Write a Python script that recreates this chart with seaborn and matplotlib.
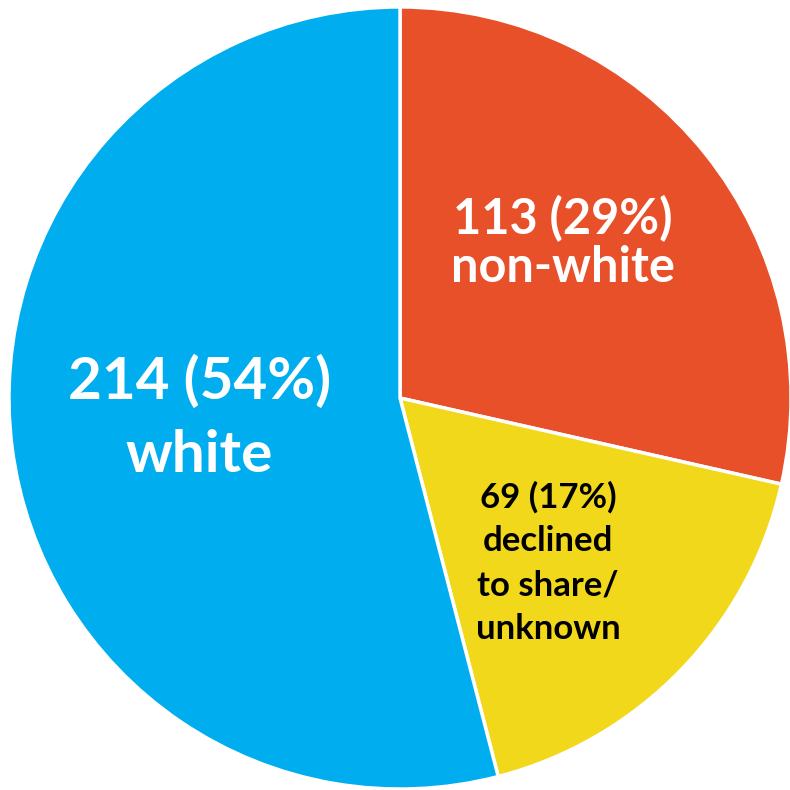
import matplotlib
matplotlib.use("Agg")
import matplotlib.pyplot as plt
import numpy as np
import seaborn as sns

categories = ["non-white", "declined\nto share/\nunknown", "white"]
counts = [113, 69, 214]
percents = [29, 17, 54]
colors = ["#E8502A", "#F2D81B", "#00AEEF"]
text_colors = ["white", "black", "white"]
font_sizes = [35, 25, 42]
line_spacings = [1.07, 1.45, 1.48]
label_dist = [0.575, 0.567, 0.515]
angle_nudge = [5, -4, -1.5]

sns.set_style("white")
plt.rcParams["font.family"] = ["Lato", "DejaVu Sans"]

fig = plt.figure(figsize=(7.9, 7.9), dpi=100)
ax = fig.add_axes([0, 0, 1, 1])
labels = [f"{c} ({p}%)\n{name}" for c, p, name in zip(counts, percents, categories)]
center = (0.0127, -0.0076)
radius = 0.99
wedges, texts = ax.pie(
    counts,
    colors=sns.color_palette(colors),
    startangle=90,
    counterclock=False,
    labels=labels,
    labeldistance=0.57,
    radius=radius,
    center=center,
    wedgeprops=dict(edgecolor="white", linewidth=2.5),
)
for w, t, tc, fs, ls, d, nud in zip(wedges, texts, text_colors, font_sizes,
                                     line_spacings, label_dist, angle_nudge):
    mid = np.deg2rad((w.theta1 + w.theta2) / 2 + nud)
    t.set_position((center[0] + d * radius * np.cos(mid),
                    center[1] + d * radius * np.sin(mid)))
    t.set_color(tc)
    t.set_fontsize(fs)
    t.set_fontweight("bold")
    t.set_ha("center")
    t.set_va("center")
    t.set_multialignment("center")
    t.set_linespacing(ls)
ax.set_xlim(-1, 1)
ax.set_ylim(-1, 1)
ax.set_aspect("equal")
ax.axis("off")
fig.savefig("out.png", dpi=100)
